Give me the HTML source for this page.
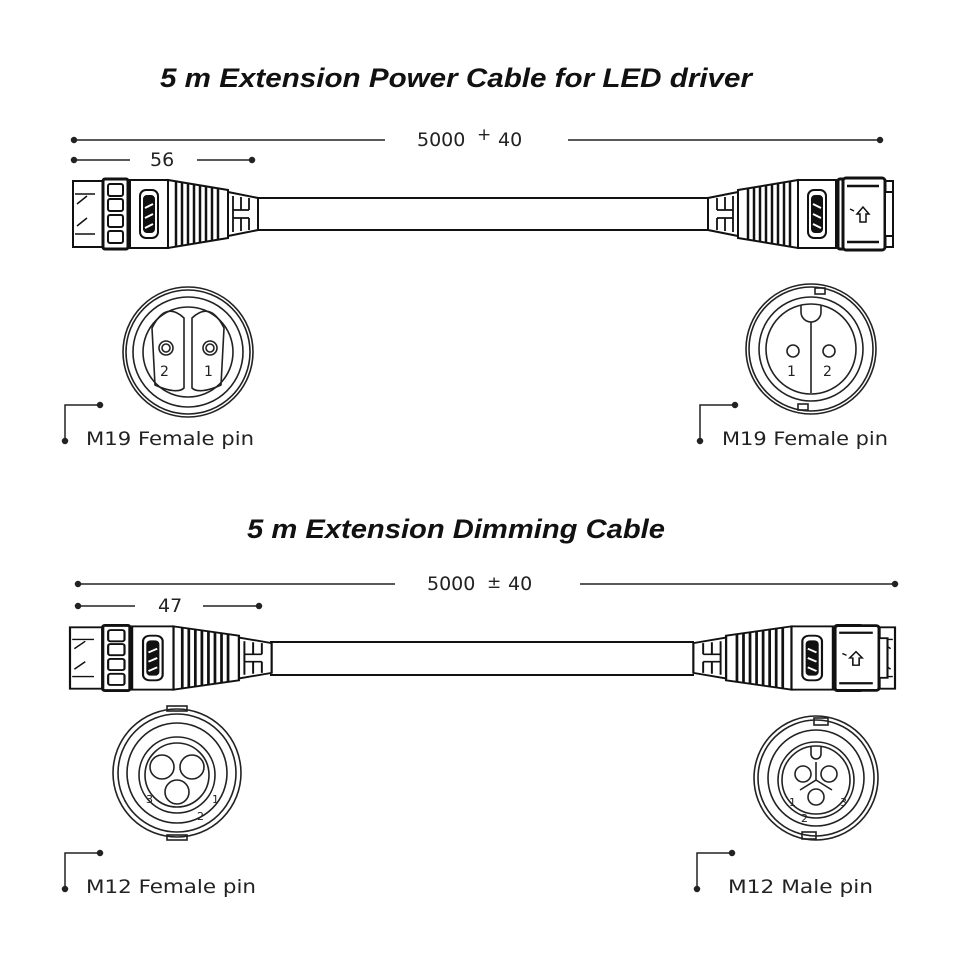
<!DOCTYPE html>
<html><head><meta charset="utf-8"><style>
html,body{margin:0;padding:0;background:#fff;width:960px;height:960px;overflow:hidden}
svg{display:block}
.t{font-family:"Liberation Sans",sans-serif;font-weight:bold;font-style:italic;fill:#111}
.d{font-family:"DejaVu Sans","Liberation Sans",sans-serif;fill:#222}
</style></head><body>
<svg width="960" height="960" viewBox="0 0 960 960" xmlns="http://www.w3.org/2000/svg">
<defs>
<g id="conn" fill="#fff" stroke="#111" stroke-width="2">
  <rect x="0" y="-33" width="32" height="66"/>
  <path d="M2 -20 H22 M2 20 H22 M4 -10 L14 -18 M4 12 L14 4" stroke-width="1.5"/>
  <rect x="30" y="-35" width="25" height="70" rx="2" stroke-width="3"/>
  <rect x="35" y="-30" width="15" height="12" rx="2"/>
  <rect x="35" y="-15" width="15" height="12" rx="2"/>
  <rect x="35" y="1" width="15" height="12" rx="2"/>
  <rect x="35" y="17" width="15" height="12" rx="2"/>
  <rect x="57" y="-34" width="38" height="68"/>
  <rect x="67" y="-24" width="18" height="48" rx="6"/>
  <rect x="71" y="-18" width="10" height="36" rx="3" fill="#111"/>
  <path d="M72 -6 l8 -4 M72 4 l8 -4 M72 14 l8 -4" stroke="#fff" stroke-width="2"/>
  <path d="M95 -34 L155 -24 L155 24 L95 34 Z"/>
  <path d="M103 -33 V33 M109 -32 V32 M115 -31 V31 M121 -30 V30 M127 -29 V29 M133 -28 V28 M139 -27 V27 M145 -26 V26" stroke-width="2.5"/>
  <path d="M155 -22 L185 -16 L185 16 L155 22 Z"/>
  <path d="M160 -18 V18 M168 -17 V-4 M168 4 V17 M176 -16 V-4 M176 4 V16 M160 -4 H176 M160 4 H176" stroke-width="1.8"/>
</g>
<g id="nutR" fill="#fff" stroke="#111" stroke-width="2">
  <rect x="0" y="-36" width="42" height="72" rx="3" stroke-width="3"/>
  <path d="M4 -28 H36 M4 28 H36" stroke-width="2.5"/>
  <path d="M14 0 l6 -7 l6 7 h-3 v8 h-6 v-8 z M7 -5 l4 2" stroke-width="1.5"/>
  <rect x="42" y="-22" width="8" height="44"/>
</g>
</defs>

<text class="t" x="160" y="87" font-size="27" textLength="592" lengthAdjust="spacingAndGlyphs">5 m Extension Power Cable for LED driver</text>
<text class="t" x="247" y="538" font-size="27" textLength="418" lengthAdjust="spacingAndGlyphs">5 m Extension Dimming Cable</text>

<g stroke="#222" stroke-width="1.5" fill="#222">
  <line x1="74" y1="140" x2="385" y2="140"/><line x1="568" y1="140" x2="880" y2="140"/>
  <circle cx="74" cy="140" r="2.5"/><circle cx="880" cy="140" r="2.5"/>
  <line x1="74" y1="160" x2="130" y2="160"/><line x1="197" y1="160" x2="252" y2="160"/>
  <circle cx="74" cy="160" r="2.5"/><circle cx="252" cy="160" r="2.5"/>
  <line x1="78" y1="584" x2="395" y2="584"/><line x1="580" y1="584" x2="895" y2="584"/>
  <circle cx="78" cy="584" r="2.5"/><circle cx="895" cy="584" r="2.5"/>
  <line x1="78" y1="606" x2="135" y2="606"/><line x1="203" y1="606" x2="259" y2="606"/>
  <circle cx="78" cy="606" r="2.5"/><circle cx="259" cy="606" r="2.5"/>
</g>
<text class="d" x="417" y="146" font-size="19">5000</text><text class="d" x="477" y="140" font-size="17">+</text><text class="d" x="498" y="146" font-size="19">40</text>
<text class="d" x="150" y="166" font-size="19">56</text>
<text class="d" x="427" y="590" font-size="19">5000</text><text class="d" x="487" y="588" font-size="17">±</text><text class="d" x="508" y="590" font-size="19">40</text>
<text class="d" x="158" y="612" font-size="19">47</text>

<!-- Top cable -->
<g stroke="#111" stroke-width="2"><line x1="256" y1="198" x2="708" y2="198"/><line x1="256" y1="230" x2="708" y2="230"/></g>
<use href="#conn" transform="translate(73,214)"/>
<use href="#conn" transform="translate(893,214) scale(-1,1)"/>
<use href="#nutR" transform="translate(843,214)"/>

<!-- Bottom cable -->
<g stroke="#111" stroke-width="2"><line x1="270" y1="642" x2="694" y2="642"/><line x1="270" y1="675" x2="694" y2="675"/></g>
<use href="#conn" transform="translate(70,658) scale(1.09,0.93)"/>
<use href="#conn" transform="translate(895,658) scale(-1.09,0.93)"/>
<use href="#nutR" transform="translate(835,658) scale(1.05,0.9)"/>

<!-- Top left face -->
<g fill="none" stroke="#222" stroke-width="1.6">
  <circle cx="188" cy="352" r="65"/><circle cx="188" cy="352" r="62"/><circle cx="188" cy="352" r="55"/>
  <circle cx="188" cy="352" r="45"/>
  <path d="M184 318 C170 305 160 312 152 328 L155 385 C170 392 180 392 184 388 Z"/>
  <path d="M192 318 C206 305 216 312 224 328 L221 385 C206 392 196 392 192 388 Z"/>
  <circle cx="166" cy="348" r="7"/><circle cx="166" cy="348" r="4"/>
  <circle cx="210" cy="348" r="7"/><circle cx="210" cy="348" r="4"/>
</g>
<text class="d" x="160" y="376" font-size="14">2</text><text class="d" x="204" y="376" font-size="14">1</text>

<!-- Top right face -->
<g fill="none" stroke="#222" stroke-width="1.6">
  <circle cx="811" cy="349" r="65"/><circle cx="811" cy="349" r="62"/><circle cx="811" cy="349" r="52"/>
  <circle cx="811" cy="349" r="45"/>
  <path d="M801 305 V312 A10 10 0 0 0 821 312 V305"/>
  <line x1="811" y1="322" x2="811" y2="393"/>
  <circle cx="793" cy="351" r="6"/><circle cx="829" cy="351" r="6"/>
  <rect x="815" y="288" width="10" height="6"/><rect x="798" y="404" width="10" height="6"/>
</g>
<text class="d" x="787" y="376" font-size="14">1</text><text class="d" x="823" y="376" font-size="14">2</text>

<!-- Bottom left face -->
<g fill="none" stroke="#222" stroke-width="1.6">
  <circle cx="177" cy="773" r="64"/><circle cx="177" cy="773" r="59"/><circle cx="177" cy="773" r="50"/>
  <circle cx="177" cy="775" r="38"/><circle cx="177" cy="775" r="32"/>
  <circle cx="162" cy="767" r="12"/><circle cx="192" cy="767" r="12"/><circle cx="177" cy="792" r="12"/>
  <rect x="167" y="706" width="20" height="5"/><rect x="167" y="835" width="20" height="5"/>
</g>
<text class="d" x="146" y="803" font-size="11">3</text><text class="d" x="212" y="803" font-size="11">1</text><text class="d" x="197" y="820" font-size="11">2</text>

<!-- Bottom right face -->
<g fill="none" stroke="#222" stroke-width="1.6">
  <circle cx="816" cy="778" r="62"/><circle cx="816" cy="778" r="58"/><circle cx="816" cy="778" r="48"/>
  <circle cx="816" cy="780" r="38"/><circle cx="816" cy="780" r="34"/>
  <path d="M811 746 V754 A5 5 0 0 0 821 754 V746"/>
  <circle cx="803" cy="774" r="8"/><circle cx="829" cy="774" r="8"/><circle cx="816" cy="797" r="8"/>
  <path d="M816 762 V780 L800 790 M816 780 L832 790"/>
  <rect x="814" y="718" width="14" height="7"/><rect x="802" y="832" width="14" height="7"/>
</g>
<text class="d" x="789" y="806" font-size="11">1</text><text class="d" x="840" y="806" font-size="11">3</text><text class="d" x="801" y="822" font-size="11">2</text>

<g stroke="#222" stroke-width="1.5" fill="#222">
  <path d="M65 440 V405 H100" fill="none"/><circle cx="100" cy="405" r="2.5"/><circle cx="65" cy="441" r="2.5"/>
  <path d="M700 440 V405 H735" fill="none"/><circle cx="735" cy="405" r="2.5"/><circle cx="700" cy="441" r="2.5"/>
  <path d="M65 888 V853 H100" fill="none"/><circle cx="100" cy="853" r="2.5"/><circle cx="65" cy="889" r="2.5"/>
  <path d="M697 888 V853 H732" fill="none"/><circle cx="732" cy="853" r="2.5"/><circle cx="697" cy="889" r="2.5"/>
</g>
<text class="d" x="86" y="445" font-size="19" textLength="168" lengthAdjust="spacingAndGlyphs">M19 Female pin</text>
<text class="d" x="722" y="445" font-size="19" textLength="166" lengthAdjust="spacingAndGlyphs">M19 Female pin</text>
<text class="d" x="86" y="893" font-size="19" textLength="170" lengthAdjust="spacingAndGlyphs">M12 Female pin</text>
<text class="d" x="728" y="893" font-size="19" textLength="145" lengthAdjust="spacingAndGlyphs">M12 Male pin</text>
</svg>
</body></html>
